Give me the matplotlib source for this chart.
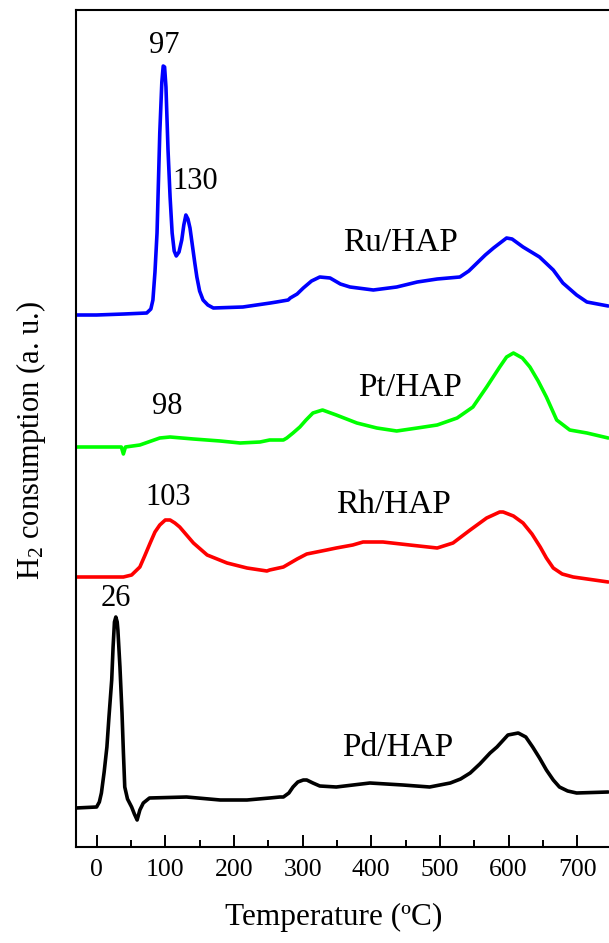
import matplotlib
matplotlib.use("Agg")
import matplotlib.pyplot as plt

plt.rcParams['font.family'] = ['Liberation Serif', 'DejaVu Serif']
plt.rcParams['mathtext.fontset'] = 'custom'
plt.rcParams['mathtext.rm'] = 'Liberation Serif'
plt.rcParams['mathtext.it'] = 'Liberation Serif:italic'

# ---- data (temperature in deg C, signal in arbitrary units, curves already offset) ----
ru_T = [-30, 0, 40, 73, 79, 82, 85, 88, 92, 95, 97, 99, 101, 104, 107, 110, 113, 116, 120, 124, 127,
        130, 133, 136, 139, 143, 146, 150, 155, 162, 170,
        213, 253, 262, 279, 282, 292, 301, 313, 325, 340, 355, 369, 403, 437, 467, 496, 529, 542, 554,
        566, 578, 597, 605, 621, 645, 665, 679, 699, 714, 745]
ru_y = [532, 532, 533, 534, 538, 547, 575, 614, 714, 765, 781, 780, 760, 697, 650, 614, 596, 591, 595,
        607, 622, 632, 628, 619, 604, 584, 570, 556, 547, 542, 539,
        540, 544, 545, 547, 549, 553, 559, 566, 570, 569, 563, 560, 557, 560, 565, 568, 570, 576, 584,
        592, 599, 609, 608, 600, 590, 577, 564, 552, 545, 541]

pt_T = [-30, 9, 36, 39, 42, 63, 92, 107, 141, 180, 209, 238, 252, 272, 277, 286, 296, 305, 315, 329,
        349, 379, 408, 437, 467, 496, 525, 548, 568, 587, 597, 607, 620, 631, 643, 655, 670, 689, 714, 745]
pt_y = [400, 400, 400, 393, 400, 402, 409, 410, 408, 406, 404, 405, 407, 407, 409, 414, 420, 427, 434, 437,
        432, 424, 419, 416, 419, 422, 429, 440, 460, 480, 490, 494, 489, 480, 466, 450, 427, 417, 414, 409]

rh_T = [-30, 39, 51, 63, 70, 78, 85, 92, 100, 107, 114, 121, 131, 141, 161, 190, 219, 248, 252, 272, 277,
        292, 306, 335, 349, 373, 388, 417, 456, 496, 519, 544, 568, 587, 592, 607, 621, 634, 646, 655,
        665, 678, 694, 745]
rh_y = [270, 270, 272, 280, 291, 304, 315, 322, 327, 327, 324, 320, 312, 304, 292, 284, 279, 276, 277, 280,
        282, 288, 293, 297, 299, 302, 305, 305, 302, 299, 304, 317, 329, 335, 335, 331, 324, 313, 300, 289,
        279, 273, 270, 265]

pd_T = [-30, 0, 4, 7, 11, 15, 18, 22, 24, 26, 28, 30, 31, 34, 37, 39, 41, 45, 51, 55, 59, 63, 68, 77,
        131, 180, 219, 252, 267, 272, 280, 286, 293, 301, 306, 315, 325, 349, 398, 446, 485, 515, 530,
        544, 558, 573, 583, 599, 614, 625, 635, 645, 655, 665, 674, 686, 699, 745]
pd_y = [39, 40, 45, 54, 75, 100, 130, 167, 200, 225, 230, 225, 217, 180, 134, 95, 60, 48, 40, 33, 27, 37,
        44, 49, 50, 47, 47, 49, 50, 50, 54, 60, 65, 67, 67, 64, 61, 60, 64, 62, 60, 64, 68,
        74, 83, 94, 100, 112, 114, 110, 100, 89, 77, 67, 60, 56, 54, 55]

curve_colors = ['#0000FF', '#00FF00', '#FF0000', '#000000']

# annotations: catalyst labels and peak temperatures
cat_names = ['Ru/HAP', 'Pt/HAP', 'Rh/HAP', 'Pd/HAP']
cat_T = [442, 457, 432, 439]
cat_y = [604, 459, 342, 99]
peak_labels = ['97', '130', '98', '103', '26']
peak_T = [98, 143, 103, 104, 28]
peak_y = [802, 666, 440, 350, 248]

xticks = [0, 100, 200, 300, 400, 500, 600, 700]
minor_xticks = [50, 150, 250, 350, 450, 550, 650, 750]

# ---- figure ----
W, H = 609, 943
fig = plt.figure(figsize=(W / 100, H / 100), dpi=100)
ax = fig.add_axes([76 / W, (H - 847) / H, 542.5 / W, 837 / H])

for T, y, c in zip([ru_T, pt_T, rh_T, pd_T], [ru_y, pt_y, rh_y, pd_y], curve_colors):
    ax.plot(T, y, color=c, lw=2.6, solid_joinstyle='round', solid_capstyle='round')

for name, t, y in zip(cat_names, cat_T, cat_y):
    ax.text(t, y, name, fontsize=24, ha='center', va='center')
for name, t, y in zip(peak_labels, peak_T, peak_y):
    ax.text(t, y, name, fontsize=22, ha='center', va='center')

ax.set_xticks(xticks)
ax.set_xticks(minor_xticks, minor=True)
ax.set_yticks([])
ax.set_xlim(-30, 760)
ax.set_ylim(0, 837)
ax.tick_params(axis='x', which='major', direction='in', length=8.5, width=1.4,
               labelsize=18.5, pad=8.5)
ax.tick_params(axis='x', which='minor', direction='in', length=5, width=1.4)
for s in ax.spines.values():
    s.set_linewidth(1.5)

ax.set_xlabel('Temperature (ºC)', fontsize=22.5)
ax.xaxis.set_label_coords((334 - 76) / 542.5, -(903 - 847) / 837)
ax.set_ylabel('H$_2$ consumption (a. u.)', fontsize=22)
ax.yaxis.set_label_coords(-(76 - 48) / 542.5, (847 - 440) / 837)

fig.savefig('out.png', dpi=100)
